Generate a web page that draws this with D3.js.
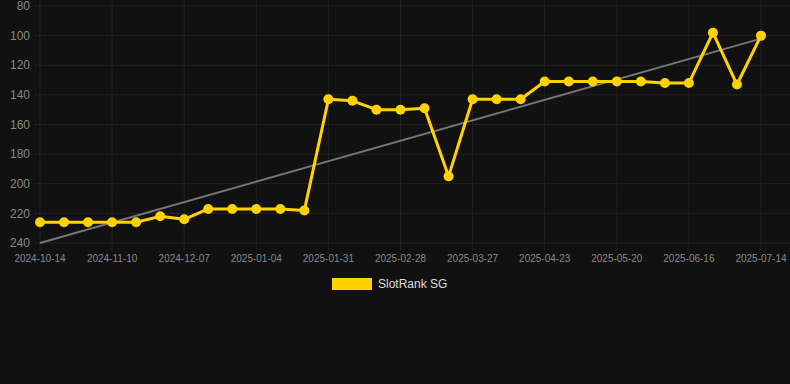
<!DOCTYPE html>
<html>
<head>
<meta charset="utf-8">
<script src="https://cdn.jsdelivr.net/npm/d3@7"></script>
<style>
  html, body { margin: 0; padding: 0; background: #111111; }
  body { width: 790px; height: 384px; overflow: hidden; font-family: "Helvetica", "Liberation Sans", Arial, sans-serif; }
</style>
</head>
<body>
<div id="chart"></div>
<script>
// all the dates on the x axis (category axis, one label every 3rd point)
const dates = [
  '2024-10-14', '2024-10-23', '2024-11-01', '2024-11-10', '2024-11-19', '2024-11-28',
  '2024-12-07', '2024-12-16', '2024-12-25', '2025-01-04', '2025-01-13', '2025-01-22',
  '2025-01-31', '2025-02-09', '2025-02-18', '2025-02-28', '2025-03-09', '2025-03-18',
  '2025-03-27', '2025-04-05', '2025-04-14', '2025-04-23', '2025-05-02', '2025-05-11',
  '2025-05-20', '2025-05-29', '2025-06-07', '2025-06-16', '2025-06-25', '2025-07-04',
  '2025-07-14'
];
const tickLabels = ['2024-10-14', '2024-11-10', '2024-12-07', '2025-01-04', '2025-01-31',
  '2025-02-28', '2025-03-27', '2025-04-23', '2025-05-20', '2025-06-16', '2025-07-14'];
const rankValues = [226, 226, 226, 226, 226, 222, 224, 217, 217, 217, 217, 218,
  143, 144, 150, 150, 149, 195, 143, 143, 143, 131, 131, 131, 131, 131, 132, 132,
  98, 133, 100];
const trendValues = [240, 102];
const yTicks = [80, 100, 120, 140, 160, 180, 200, 220, 240];
const seriesName = 'SlotRank SG';

let width = 790, height = 384;
let margin = {top: 6, right: 29, bottom: 141, left: 40};

let svg = d3.select('#chart')
  .append('svg')
    .attr('width', width)
    .attr('height', height);

let x = d3.scalePoint()
  .domain(dates)
  .range([margin.left, width - margin.right]);

let y = d3.scaleLinear()
  .domain([80, 240])
  .range([margin.top, height - margin.bottom]);

// horizontal grid
svg.append('g')
  .selectAll('line')
  .data(yTicks)
  .enter()
  .append('line')
    .attr('x1', 35)
    .attr('x2', width)
    .attr('y1', d => y(d))
    .attr('y2', d => y(d))
    .attr('stroke', '#222222')
    .attr('stroke-width', 1);

// vertical grid + tick marks
svg.append('g')
  .selectAll('line')
  .data(tickLabels)
  .enter()
  .append('line')
    .attr('x1', d => x(d))
    .attr('x2', d => x(d))
    .attr('y1', 0)
    .attr('y2', y(240) + 8)
    .attr('stroke', '#222222')
    .attr('stroke-width', 1);

// y axis labels
svg.append('g')
  .selectAll('text')
  .data(yTicks)
  .enter()
  .append('text')
    .attr('x', 30)
    .attr('y', d => y(d))
    .attr('dy', '0.35em')
    .attr('text-anchor', 'end')
    .style('font-size', '12px')
    .style('fill', '#888888')
    .text(d => d);

// x axis labels
svg.append('g')
  .selectAll('text')
  .data(tickLabels)
  .enter()
  .append('text')
    .attr('x', d => x(d))
    .attr('y', y(240) + 19)
    .attr('text-anchor', 'middle')
    .style('font-size', '10px')
    .style('fill', '#888888')
    .text(d => d);

// trend line
svg.append('line')
  .attr('x1', x(dates[0]))
  .attr('x2', x(dates[dates.length - 1]))
  .attr('y1', y(trendValues[0]))
  .attr('y2', y(trendValues[1]))
  .attr('stroke', '#767676')
  .attr('stroke-width', 2);

// series line
let line = d3.line()
  .x((d, i) => x(dates[i]))
  .y(d => y(d));

svg.append('path')
  .datum(rankValues)
  .attr('d', line)
  .attr('fill', 'none')
  .attr('stroke', '#ffd200')
  .attr('stroke-width', 3)
  .attr('stroke-linejoin', 'round');

// dots
svg.append('g')
  .selectAll('circle')
  .data(rankValues)
  .enter()
  .append('circle')
    .attr('cx', (d, i) => x(dates[i]))
    .attr('cy', d => y(d))
    .attr('r', 5)
    .style('fill', '#ffd200');

// legend
let legend = svg.append('g').attr('transform', 'translate(332,278)');
legend.append('rect')
  .attr('width', 40)
  .attr('height', 12)
  .style('fill', '#ffd200');
legend.append('text')
  .attr('x', 46)
  .attr('y', 6)
  .attr('dy', '0.35em')
  .style('font-size', '12px')
  .style('fill', '#dddddd')
  .text(seriesName);
</script>
</body>
</html>
